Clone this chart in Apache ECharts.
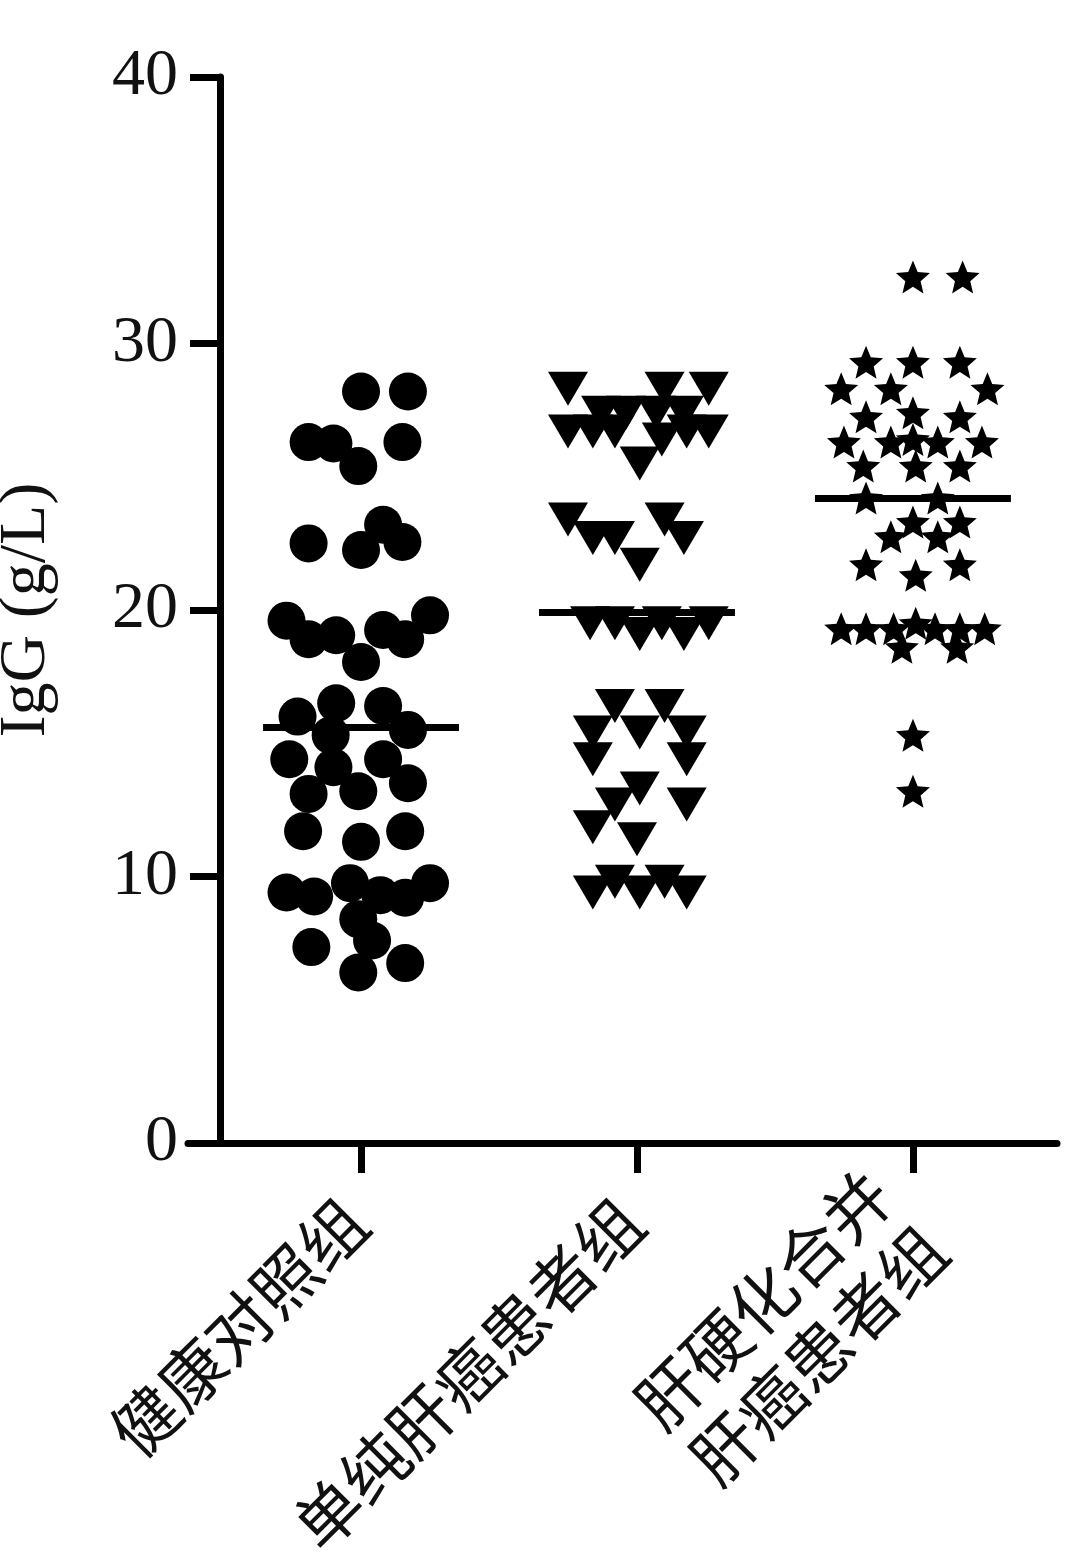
<!DOCTYPE html>
<html>
<head>
<meta charset="utf-8">
<script src="https://cdn.jsdelivr.net/npm/echarts@6/dist/echarts.min.js"></script>
<style>html,body{margin:0;padding:0;background:#fff}#c{width:1074px;height:1567px}</style>
</head>
<body>
<div id="c"></div>
<script>
// ---- data ----
var categories = ['健康对照组', '单纯肝癌患者组', '肝硬化合并\n肝癌患者组'];
var yTicks = [0, 10, 20, 30, 40];
var means = [15.6, 19.9, 24.2];

// 健康对照组
var healthyValues = [28.2, 28.2, 26.3, 26.25, 25.4, 26.3, 22.5, 23.2, 22.55, 22.25,
  19.6, 18.9, 19.05, 18.05, 19.25, 18.9, 19.8, 16.0, 16.5, 16.4, 15.5, 15.3,
  14.4, 14.1, 14.4, 13.5, 13.1, 13.2, 11.7, 11.3, 11.7,
  9.4, 9.25, 9.75, 9.3, 9.2, 9.75, 8.4, 7.35, 7.6, 6.75, 6.4];
var healthyJitter = [0.00, 0.17, -0.19, -0.10, -0.01, 0.15, -0.19, 0.08, 0.15, 0.00,
  -0.27, -0.19, -0.09, 0.00, 0.08, 0.16, 0.25, -0.23, -0.09, 0.08, 0.17, -0.11,
  -0.26, -0.10, 0.08, 0.17, -0.19, -0.01, -0.21, 0.00, 0.16,
  -0.27, -0.17, -0.04, 0.07, 0.16, 0.25, -0.01, -0.18, 0.04, 0.16, -0.01];

// 单纯肝癌患者组
var hccValues = [28.3, 28.3, 28.3, 27.4, 27.4, 27.4, 27.4, 26.7, 26.7, 26.7, 26.4, 26.7, 26.7, 25.5,
  23.4, 23.4, 22.7, 22.7, 22.7, 21.7,
  19.5, 19.5, 19.1, 19.5, 19.1, 19.5,
  16.4, 16.4, 15.4, 15.4, 15.4, 14.4, 14.4, 13.3, 12.7, 12.7, 11.85, 11.4,
  9.8, 9.8, 9.4, 9.4, 9.4];
var hccJitter = [-0.25, 0.10, 0.26, -0.13, -0.04, 0.07, 0.17, -0.25, -0.16, -0.08, 0.09, 0.18, 0.26, 0.01,
  -0.25, 0.10, -0.16, -0.08, 0.17, 0.01,
  -0.17, -0.08, 0.01, 0.09, 0.17, 0.26,
  -0.08, 0.10, -0.16, 0.01, 0.18, -0.16, 0.18, 0.01, -0.08, 0.18, -0.16, 0.00,
  -0.08, 0.10, -0.16, 0.01, 0.18];

// 肝硬化合并肝癌患者组
var cirrValues = [32.5, 32.5, 29.3, 29.3, 29.3, 28.3, 28.3, 28.3,
  27.25, 27.4, 27.25, 26.3, 26.3, 26.4, 26.3, 26.3, 25.4, 25.4, 25.4,
  24.2, 24.2, 23.3, 23.3, 22.75, 22.75, 21.7, 21.7, 21.3,
  19.3, 19.3, 19.3, 19.5, 19.3, 19.3, 19.3, 18.6, 18.6, 15.3, 13.2];
var cirrJitter = [0.00, 0.18, -0.17, 0.00, 0.17, -0.26, -0.08, 0.27,
  -0.17, 0.00, 0.17, -0.25, -0.08, 0.00, 0.09, 0.25, -0.18, 0.01, 0.17,
  -0.17, 0.09, 0.00, 0.17, -0.08, 0.09, -0.17, 0.17, 0.01,
  -0.26, -0.17, -0.07, 0.01, 0.08, 0.17, 0.26, -0.04, 0.16, 0.00, 0.00];

// ---- build ----
var groups = [
  {values: healthyValues, jitter: healthyJitter, symbol: 'circle', size: 38, rotate: 0},
  {values: hccValues, jitter: hccJitter, symbol: 'triangle', size: [40, 34], rotate: 180},
  {values: cirrValues, jitter: cirrJitter, symbol: 'path://M0,-10L2.65,-3.64L9.51,-3.09L4.28,1.39L5.88,8.09L0,4.5L-5.88,8.09L-4.28,1.39L-9.51,-3.09L-2.65,-3.64Z', size: [34, 33], rotate: 0}
];
var halfWidth = 0.355;

var series = groups.map(function (g, gi) {
  return {
    type: 'scatter',
    symbol: g.symbol,
    symbolSize: g.size,
    symbolRotate: g.rotate,
    itemStyle: {color: '#000', opacity: 1},
    emphasis: {disabled: true},
    data: g.values.map(function (v, k) { return [gi + g.jitter[k], v]; }),
    markLine: {
      silent: true,
      symbol: 'none',
      label: {show: false},
      lineStyle: {color: '#000', width: 7, type: 'solid'},
      data: [[{coord: [gi - halfWidth, means[gi]]}, {coord: [gi + halfWidth, means[gi]]}]]
    }
  };
});

var chart = echarts.init(document.getElementById('c'), null, {renderer: 'canvas'});
chart.setOption({
  animation: false,
  backgroundColor: '#fff',
  grid: {left: 188, right: 17, top: 77, bottom: 424, containLabel: false, outerBoundsMode: 'none'},
  xAxis: {
    type: 'value',
    min: -0.627,
    max: 2.522,
    splitLine: {show: false},
    axisLine: {show: true, onZero: false, lineStyle: {color: '#000', width: 7}},
    axisTick: {show: true, inside: false, length: 30, customValues: [0, 1, 2], lineStyle: {color: '#000', width: 7}},
    axisLabel: {
      show: true,
      customValues: [0, 1, 2],
      rotate: 45,
      margin: 62,
      padding: [0, 8, 0, 0],
      fontFamily: 'Noto Sans CJK SC',
      fontSize: 66,
      lineHeight: 78,
      color: '#111',
      formatter: function (v) { return categories[Math.round(v)]; }
    }
  },
  yAxis: {
    type: 'value',
    min: yTicks[0],
    max: yTicks[yTicks.length - 1],
    interval: 10,
    offset: -32,
    name: 'IgG (g/L)',
    nameLocation: 'middle',
    nameGap: 160,
    nameRotate: 90,
    nameTextStyle: {fontFamily: 'Liberation Serif', fontSize: 66, color: '#111'},
    splitLine: {show: false},
    axisLine: {show: true, onZero: false, lineStyle: {color: '#000', width: 7}},
    axisTick: {show: true, inside: false, length: 30, lineStyle: {color: '#000', width: 7}},
    axisLabel: {margin: 42, fontFamily: 'Liberation Serif', fontSize: 66, color: '#111'}
  },
  series: series
});
</script>
</body>
</html>
